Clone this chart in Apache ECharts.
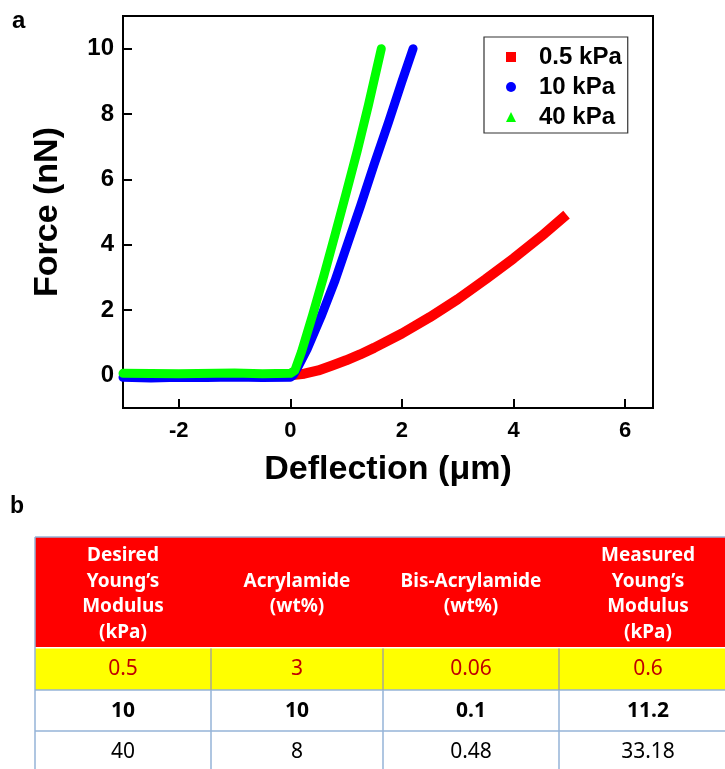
<!DOCTYPE html>
<html>
<head>
<meta charset="utf-8">
<script src="https://cdn.jsdelivr.net/npm/echarts@6/dist/echarts.min.js"></script>
<style>
html,body{margin:0;padding:0;background:#fff;}
#chart{width:725px;height:769px;}
</style>
</head>
<body>
<div id="chart"></div>
<script>
// ---- plot data ----
const seriesNames = ['0.5 kPa', '10 kPa', '40 kPa'];
const data05kPa = [[-3,0],[-2,0],[-1,0],[0,0],[0.25,0.05],[0.5,0.15],[0.75,0.3],[1,0.46],[1.25,0.64],[1.5,0.84],[2,1.28],[2.5,1.78],[3,2.33],[3.5,2.94],[4,3.58],[4.5,4.26],[4.95,4.92]];
const data10kPa = [[-3,-0.06],[-2.5,-0.08],[-2,-0.06],[-1.5,-0.07],[-1,-0.05],[-0.5,-0.07],[0,-0.06],[0.05,0],[0.15,0.3],[0.3,0.8],[0.55,1.8],[0.8,2.9],[1.02,4.0],[1.26,5.2],[1.5,6.45],[1.76,7.75],[2.0,9.0],[2.2,10.0]];
const data40kPa = [[-3,0.06],[-2,0.05],[-1,0.07],[-0.5,0.05],[0,0.06],[0.08,0.15],[0.2,0.72],[0.4,1.85],[0.6,3.05],[0.8,4.3],[1.0,5.58],[1.2,6.88],[1.4,8.28],[1.63,10.0]];
const xTickValues = [-2, 0, 2, 4, 6];
const yTickValues = [0, 2, 4, 6, 8, 10];
const xAxisTitle = 'Deflection (\u03bcm)';
const yAxisTitle = 'Force (nN)';

// ---- table data ----
const tableHeader = [
  ['Desired', 'Young\u2019s', 'Modulus', '(kPa)'],
  ['Acrylamide', '(wt%)'],
  ['Bis-Acrylamide', '(wt%)'],
  ['Measured', 'Young\u2019s', 'Modulus', '(kPa)']
];
const tableRows = [
  ['0.5', '3', '0.06', '0.6'],
  ['10', '10', '0.1', '11.2'],
  ['40', '8', '0.48', '33.18']
];

const FONT = '"Liberation Sans", Arial, sans-serif';
const TFONT = '"Noto Sans", "Noto Sans CJK KR", sans-serif';
const colors = ['#ff0000', '#0000ff', '#00ff00'];
const icons = ['rect', 'circle', 'triangle'];

// table layout
const colEdges = [35, 211, 383, 559, 737];
const rowEdges = [537, 647, 690, 731, 772];
const rowStyles = [
  {bg: '#ffff00', color: '#c00000', weight: 'normal'},
  {bg: '#ffffff', color: '#000000', weight: 'bold'},
  {bg: '#ffffff', color: '#000000', weight: 'normal'}
];
const graphics = [];
graphics.push({type: 'text', x: 12, y: 21, style: {text: 'a', font: 'bold 24px ' + FONT, fill: '#000', align: 'left', verticalAlign: 'middle'}});
graphics.push({type: 'text', x: 10, y: 507, style: {text: 'b', font: 'bold 23px ' + FONT, fill: '#000', align: 'left', verticalAlign: 'middle'}});
// header background
graphics.push({type: 'rect', shape: {x: colEdges[0], y: rowEdges[0], width: colEdges[4] - colEdges[0], height: rowEdges[1] - rowEdges[0]}, style: {fill: '#ff0000'}});
// row backgrounds
tableRows.forEach(function (row, r) {
  graphics.push({type: 'rect', shape: {x: colEdges[0], y: rowEdges[r + 1] + (r === 0 ? 1.5 : 0), width: colEdges[4] - colEdges[0], height: rowEdges[r + 2] - rowEdges[r + 1] - (r === 0 ? 1.5 : 0)}, style: {fill: rowStyles[r].bg}});
});
// grid lines
const lineColor = '#95b3d7';
graphics.push({type: 'line', shape: {x1: colEdges[0], y1: rowEdges[0], x2: colEdges[4], y2: rowEdges[0]}, style: {stroke: lineColor, lineWidth: 1.5}});
graphics.push({type: 'line', shape: {x1: colEdges[0], y1: rowEdges[0], x2: colEdges[0], y2: rowEdges[4]}, style: {stroke: lineColor, lineWidth: 1.5}});
for (let r = 2; r <= 3; r++) {
  graphics.push({type: 'line', shape: {x1: colEdges[0], y1: rowEdges[r], x2: colEdges[4], y2: rowEdges[r]}, style: {stroke: lineColor, lineWidth: 1.5}});
}
for (let c = 1; c <= 3; c++) {
  graphics.push({type: 'line', shape: {x1: colEdges[c], y1: rowEdges[1] + 1.5, x2: colEdges[c], y2: rowEdges[2]}, style: {stroke: '#a8a890', lineWidth: 1.5}});
  graphics.push({type: 'line', shape: {x1: colEdges[c], y1: rowEdges[2], x2: colEdges[c], y2: rowEdges[4]}, style: {stroke: lineColor, lineWidth: 1.5}});
}
// header text
tableHeader.forEach(function (lines, c) {
  graphics.push({type: 'text', x: (colEdges[c] + colEdges[c + 1]) / 2, y: (rowEdges[0] + rowEdges[1]) / 2 + 2,
    style: {text: lines.join('\n'), font: 'bold 19px ' + TFONT, lineHeight: 25.8, fill: '#ffffff', align: 'center', verticalAlign: 'middle'}});
});
// row text
tableRows.forEach(function (row, r) {
  row.forEach(function (val, c) {
    graphics.push({type: 'text', x: (colEdges[c] + colEdges[c + 1]) / 2, y: (rowEdges[r + 1] + rowEdges[r + 2]) / 2 + 1,
      style: {text: val, font: rowStyles[r].weight + ' 21px ' + TFONT, fill: rowStyles[r].color, align: 'center', verticalAlign: 'middle'}});
  });
});

const seriesData = [data05kPa, data10kPa, data40kPa];
const chart = echarts.init(document.getElementById('chart'), null, {renderer: 'canvas'});
chart.setOption({
  animation: false,
  backgroundColor: '#ffffff',
  grid: {left: 123, top: 16, right: 72, bottom: 361, show: true, borderColor: '#000', borderWidth: 2, backgroundColor: 'transparent'},
  legend: {
    left: 484, top: 37, orient: 'vertical',
    padding: [8, 6, 4, 22],
    itemGap: 6, itemWidth: 10, itemHeight: 10,
    borderColor: '#333', borderWidth: 1.2,
    textStyle: {fontFamily: FONT, fontWeight: 'bold', fontSize: 24, color: '#000', padding: [0, 0, 0, 18]},
    data: seriesNames.map(function (n, i) { return {name: n, icon: icons[i]}; })
  },
  xAxis: {
    type: 'value', min: -3, max: 6.5,
    name: xAxisTitle, nameLocation: 'middle', nameGap: 45,
    nameTextStyle: {fontFamily: FONT, fontWeight: 'bold', fontSize: 34, color: '#000'},
    axisLine: {show: true, onZero: false, lineStyle: {color: '#000', width: 2}},
    axisTick: {show: true, inside: true, length: 9, lineStyle: {color: '#000', width: 2}, customValues: xTickValues},
    axisLabel: {fontFamily: FONT, fontWeight: 'bold', fontSize: 22, color: '#000', margin: 12, customValues: xTickValues},
    splitLine: {show: false}
  },
  yAxis: {
    type: 'value', min: -1, max: 11,
    name: yAxisTitle, nameLocation: 'middle', nameGap: 58, nameRotate: 90,
    nameTextStyle: {fontFamily: FONT, fontWeight: 'bold', fontSize: 34, color: '#000'},
    axisLine: {show: true, onZero: false, lineStyle: {color: '#000', width: 2}},
    axisTick: {show: true, inside: true, length: 9, lineStyle: {color: '#000', width: 2}, customValues: yTickValues},
    axisLabel: {fontFamily: FONT, fontWeight: 'bold', fontSize: 24, color: '#000', margin: 9, customValues: yTickValues},
    splitLine: {show: false}
  },
  series: seriesNames.map(function (n, i) {
    return {
      name: n, type: 'line', data: seriesData[i], color: colors[i],
      showSymbol: false, symbol: 'none', smooth: false,
      lineStyle: {color: colors[i], width: i === 0 ? 10 : 9, cap: i === 0 ? 'butt' : 'round', join: 'round'},
      z: 2 + i
    };
  }),
  graphic: graphics
});
</script>
</body>
</html>
